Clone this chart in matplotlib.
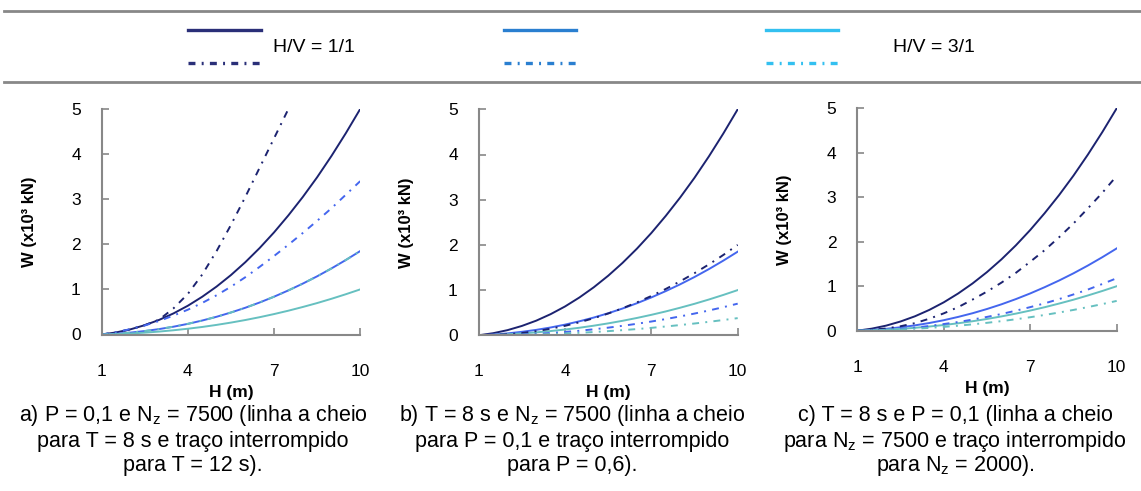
import matplotlib.pyplot as plt
from matplotlib.lines import Line2D

plt.rcParams['font.family'] = ['Liberation Sans', 'DejaVu Sans']
plt.rcParams['lines.scale_dashes'] = False
plt.rcParams['mathtext.fontset'] = 'custom'
plt.rcParams['mathtext.rm'] = 'Liberation Sans'

# H (m)
H = [1, 1.5, 2, 2.5, 3, 3.5, 4, 4.5, 5, 5.5, 6, 6.5, 7, 7.5, 8, 8.5, 9, 9.5, 10]

# linha a cheio: T = 8 s, P = 0,1, Nz = 7500 (igual nos três gráficos)
w_hv1 = [0, 0.046, 0.114, 0.207, 0.324, 0.468, 0.638, 0.837, 1.063, 1.318,
         1.603, 1.918, 2.264, 2.642, 3.048, 3.486, 3.959, 4.464, 5.0]
w_hv2 = [0, 0.017, 0.042, 0.077, 0.12, 0.173, 0.236, 0.31, 0.393, 0.488,
         0.593, 0.71, 0.838, 0.978, 1.128, 1.29, 1.465, 1.652, 1.85]
w_hv3 = [0, 0.009, 0.023, 0.041, 0.065, 0.094, 0.128, 0.167, 0.213, 0.264,
         0.321, 0.384, 0.453, 0.528, 0.61, 0.697, 0.792, 0.893, 1.0]

# a) traço interrompido: T = 12 s
H_a1 = [1, 1.5, 2, 2.5, 3, 3.5, 4, 4.5, 5, 5.5, 6, 6.5, 7, 7.5]
wa_hv1 = [0, 0.046, 0.114, 0.207, 0.33, 0.58, 0.9, 1.33, 1.85, 2.43,
          3.05, 3.7, 4.35, 5.0]
wa_hv2 = [0, 0.05, 0.12, 0.2, 0.3, 0.42, 0.55, 0.7, 0.87, 1.06,
          1.27, 1.5, 1.74, 1.99, 2.25, 2.52, 2.8, 3.1, 3.4]
wa_hv3 = [0, 0.017, 0.042, 0.077, 0.12, 0.173, 0.236, 0.31, 0.393, 0.488,
          0.593, 0.71, 0.838, 0.978, 1.128, 1.29, 1.465, 1.652, 1.85]

# b) traço interrompido: P = 0,6
wb_hv1 = [0, 0.005, 0.022, 0.051, 0.091, 0.145, 0.21, 0.288, 0.379, 0.482,
          0.599, 0.728, 0.87, 1.025, 1.194, 1.375, 1.569, 1.777, 2.0]
wb_hv2 = [0, 0.002, 0.008, 0.018, 0.032, 0.051, 0.074, 0.101, 0.133, 0.169,
          0.21, 0.255, 0.305, 0.359, 0.418, 0.481, 0.549, 0.622, 0.7]
wb_hv3 = [0, 0.001, 0.004, 0.01, 0.017, 0.028, 0.04, 0.055, 0.072, 0.092,
          0.114, 0.138, 0.165, 0.195, 0.227, 0.261, 0.298, 0.338, 0.38]

# c) traço interrompido: Nz = 2000
wc_hv1 = [0, 0.02, 0.05, 0.1, 0.17, 0.27, 0.39, 0.53, 0.7, 0.88,
          1.08, 1.3, 1.55, 1.81, 2.1, 2.41, 2.75, 3.1, 3.48]
wc_hv2 = [0, 0.008, 0.02, 0.04, 0.07, 0.105, 0.15, 0.195, 0.25, 0.31,
          0.375, 0.45, 0.53, 0.615, 0.71, 0.815, 0.925, 1.05, 1.18]
wc_hv3 = [0, 0.006, 0.015, 0.027, 0.044, 0.063, 0.086, 0.112, 0.143, 0.177,
          0.215, 0.257, 0.303, 0.354, 0.409, 0.467, 0.531, 0.598, 0.67]

navy = '#1c2370'
blue = '#4466ee'
teal = '#66c0c0'
leg_colors = ['#2a2f78', '#2a7fd0', '#33c0f0']
gray = '#888888'
dashdot = (0, (5, 4.5, 1.4, 4.5))

captions = [
    ['a) P = 0,1 e N$_\\mathregular{z}$ = 7500 (linha a cheio',
     'para T = 8 s e traço interrompido',
     'para T = 12 s).'],
    ['b) T = 8 s e N$_\\mathregular{z}$ = 7500 (linha a cheio',
     'para P = 0,1 e traço interrompido',
     'para P = 0,6).'],
    ['c) T = 8 s e P = 0,1 (linha a cheio',
     'para N$_\\mathregular{z}$ = 7500 e traço interrompido',
     'para N$_\\mathregular{z}$ = 2000).'],
]
caption_x = [193, 572, 955]

W, Hpx = 1141, 491
fig = plt.figure(figsize=(W / 100, Hpx / 100), dpi=100)

# posição dos gráficos em pixels: (esquerda, y de W=0, largura, altura)
boxes = [(101.7, 334.5, 258.5, 225.5), (478.7, 335.3, 259, 226), (857.3, 330.7, 259.4, 222.4)]
dashed = [
    [(H_a1, wa_hv1, navy), (H, wa_hv2, blue), (H, wa_hv3, teal)],
    [(H, wb_hv1, navy), (H, wb_hv2, blue), (H, wb_hv3, teal)],
    [(H, wc_hv1, navy), (H, wc_hv2, blue), (H, wc_hv3, teal)],
]

for i, (x0, y0, w, h) in enumerate(boxes):
    ax = fig.add_axes([x0 / W, (Hpx - y0) / Hpx, w / W, h / Hpx])
    ax.plot(H, w_hv1, color=navy, lw=1.4)
    ax.plot(H, w_hv2, color=blue, lw=1.4)
    ax.plot(H, w_hv3, color=teal, lw=1.4)
    for xs, ys, c in dashed[i]:
        ax.plot(xs, ys, color=c, lw=1.4, linestyle=dashdot)
    ax.set_xlim(1, 10)
    ax.set_ylim(0, 5)
    ax.set_xticks([1, 4, 7, 10])
    ax.set_yticks([0, 1, 2, 3, 4, 5])
    for s in ['top', 'right']:
        ax.spines[s].set_visible(False)
    for s in ['left', 'bottom']:
        ax.spines[s].set_color(gray)
        ax.spines[s].set_linewidth(1.5)
    ax.tick_params(direction='in', length=5, width=1.2, color=gray, labelsize=12.5)
    ax.tick_params(axis='x', pad=21)
    ax.tick_params(axis='y', pad=15)
    ax.set_ylabel('W (x10³ kN)', fontsize=12, fontweight='bold')
    ax.yaxis.set_label_coords(-65 / w, 0.5)
    ax.set_xlabel('H (m)', fontsize=12.5, fontweight='bold')
    ax.xaxis.set_label_coords(0.5, -50 / h)

    for j, line in enumerate(captions[i]):
        fig.text(caption_x[i] / W, 1 - (416 + 25 * j) / Hpx, line,
                 ha='center', va='center', fontsize=15.5)

# legenda
for y in [11, 82]:
    fig.add_artist(Line2D([4 / W, 1], [1 - y / Hpx] * 2, color=gray, lw=2))
leg_x = [(188, 261), (504, 576), (766, 838)]
for (xa, xb), c in zip(leg_x, leg_colors):
    fig.add_artist(Line2D([xa / W, xb / W], [1 - 30 / Hpx] * 2, color=c, lw=2.4))
    fig.add_artist(Line2D([xa / W, xb / W], [1 - 63 / Hpx] * 2, color=c, lw=2.4,
                          linestyle=dashdot))
fig.text(273 / W, 1 - 47 / Hpx, 'H/V = 1/1', ha='left', va='center', fontsize=14)
fig.text(893 / W, 1 - 47 / Hpx, 'H/V = 3/1', ha='left', va='center', fontsize=14)

fig.savefig('out.png', dpi=100)
